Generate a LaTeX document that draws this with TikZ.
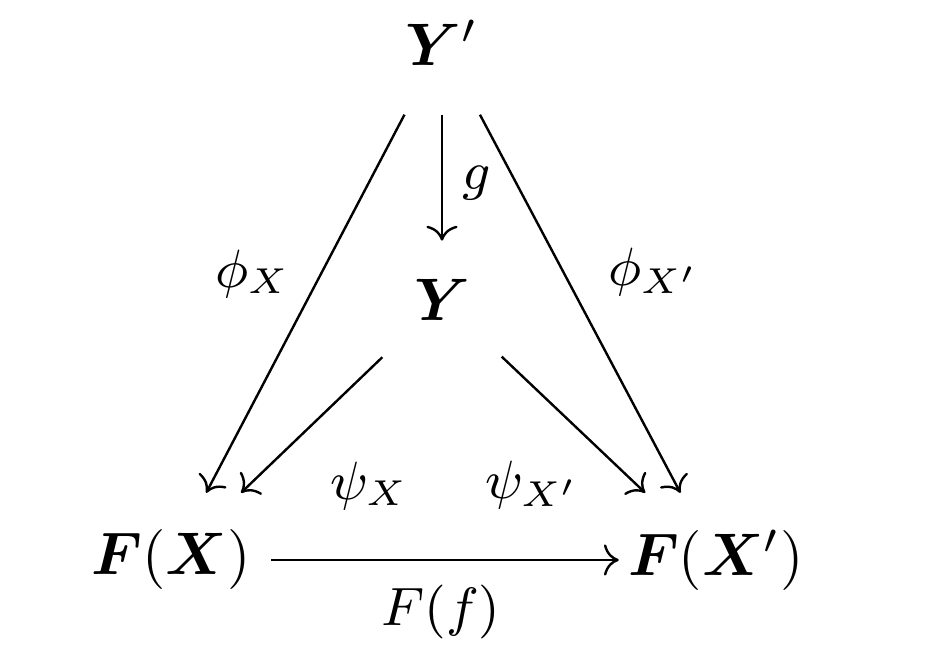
\documentclass[tikz,border=0pt]{standalone}
\usepackage{bm}
\usetikzlibrary{arrows.meta}
\begin{document}
\begin{tikzpicture}[x=0.1667pt,y=-0.1667pt,
  obj/.style={inner sep=0pt, anchor=center},
  lab/.style={inner sep=0pt, font=\fontsize{9}{11}\selectfont},
  arr/.style={-{Computer Modern Rightarrow}, line width=0.4pt}]
\useasboundingbox (0,0) rectangle (932,658);
\node[obj, minimum width=13.3pt, minimum height=23.5pt] (Yp) at (442,43) {$\bm{Y}'$};
\node[obj, minimum width=19.5pt, minimum height=19.4pt] (Y) at (442,300) {$\bm{Y}$};
\node[obj, minimum width=33pt, minimum height=22pt] (FX) at (171,560) {$\bm{F}(\bm{X})$};
\node[obj, minimum width=32pt, minimum height=22pt] (FXp) at (716,560) {$\bm{F}(\bm{X}')$};
\draw[arr] (Yp) -- (Y);
\draw[arr] (Yp) -- (FX);
\draw[arr] (Yp) -- (FXp);
\draw[arr] (Y) -- (FX);
\draw[arr] (Y) -- (FXp);
\draw[arr] (FX) -- (FXp);
\node[lab, anchor=west] (lg) at (461,183) {$g$};
\node[lab, anchor=west] (lphiX) at (214,274) {$\phi_X$};
\node[lab, anchor=west] (lphiXp) at (607,272) {$\phi_{X'}$};
\node[lab, anchor=west] (lpsiX) at (329,486) {$\psi_X$};
\node[lab, anchor=west] (lpsiXp) at (484,485) {$\psi_{X'}$};
\node[lab, anchor=center] (lFf) at (441,612) {$F(f)$};
\end{tikzpicture}
\end{document}
